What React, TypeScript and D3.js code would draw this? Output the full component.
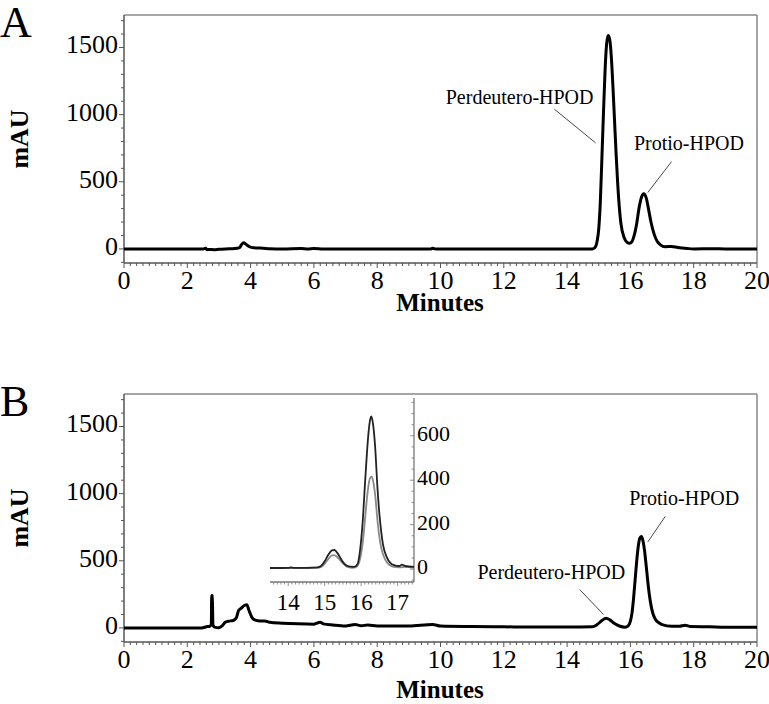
import React from "react";
import * as d3 from "d3";

// ---------- data ----------
const xTicks = [0, 2, 4, 6, 8, 10, 12, 14, 16, 18, 20];
const yTicks = [0, 500, 1000, 1500];
const insetXTicks = [14, 15, 16, 17];
const insetYTicks = [0, 200, 400, 600];

// Panel A chromatogram [minutes, mAU]
const traceA: [number, number][] = [
  [0, 0], [2.5, 0], [2.58, 4], [2.62, -6], [2.7, -4], [2.85, -6], [3.0, -3], [3.2, 0],
  [3.5, 3], [3.65, 10], [3.72, 35], [3.78, 45], [3.85, 35], [3.95, 18], [4.1, 8], [4.4, 5],
  [4.6, 2], [5.0, 0], [5.6, 3], [5.8, 0], [6.0, 3], [6.3, 0], [8, 0], [9.7, 0], [9.75, 5],
  [9.85, 0], [14.8, 0], [14.88, 10], [14.95, 60], [15.0, 150], [15.05, 350], [15.1, 680],
  [15.15, 1020], [15.2, 1330], [15.25, 1530], [15.3, 1590], [15.35, 1555], [15.4, 1420],
  [15.45, 1200], [15.5, 950], [15.55, 700], [15.6, 480], [15.65, 310], [15.7, 190],
  [15.8, 85], [15.9, 48], [15.97, 42], [16.05, 55], [16.12, 100], [16.2, 190], [16.27, 300],
  [16.35, 385], [16.42, 411], [16.5, 380], [16.57, 300], [16.65, 200], [16.75, 110],
  [16.85, 55], [16.95, 30], [17.1, 16], [17.3, 18], [17.5, 10], [17.8, 3], [18, 0],
  [18.6, 2], [19, 0], [20, 0],
];

// Panel B chromatogram [minutes, mAU]
const traceB: [number, number][] = [
  [0, 0], [2.45, 0], [2.6, 8], [2.72, 14], [2.76, 30], [2.77, 242], [2.79, 240], [2.81, 20],
  [2.88, 4], [3.0, 2], [3.1, 15], [3.2, 42], [3.3, 50], [3.45, 55], [3.55, 75], [3.62, 130],
  [3.72, 150], [3.82, 170], [3.88, 172], [3.95, 130], [4.05, 75], [4.15, 58], [4.3, 52],
  [4.45, 52], [4.6, 42], [5.0, 35], [5.5, 30], [6.0, 28], [6.2, 42], [6.3, 30], [6.6, 22],
  [7.0, 15], [7.3, 25], [7.5, 16], [7.7, 22], [8.0, 15], [9.0, 14], [9.75, 26], [10.0, 14],
  [11, 10], [12, 8], [13, 6], [14, 6], [14.8, 8], [14.95, 25], [15.1, 55], [15.23, 72],
  [15.35, 60], [15.5, 32], [15.65, 14], [15.83, 5], [15.93, 15], [16.0, 50], [16.05, 110],
  [16.1, 220], [16.15, 360], [16.2, 500], [16.25, 610], [16.3, 670], [16.35, 680],
  [16.4, 645], [16.45, 570], [16.5, 460], [16.55, 345], [16.6, 245], [16.7, 115],
  [16.8, 60], [16.9, 38], [17.0, 24], [17.3, 12], [17.55, 12], [17.73, 20], [17.9, 10],
  [18.5, 8], [19, 5], [20, 5],
];

// Inset (panel B), two overlaid runs [minutes, mAU]
const insetDark: [number, number][] = [
  [13.5, 5], [14.0, 6], [14.08, 8], [14.15, 6], [14.5, 6], [14.8, 8], [14.9, 14], [15.0, 35],
  [15.1, 65], [15.2, 84], [15.27, 86], [15.35, 72], [15.45, 45], [15.55, 22], [15.65, 12],
  [15.8, 10], [15.9, 22], [15.95, 60], [16.0, 130], [16.05, 230], [16.1, 370], [16.15, 500],
  [16.2, 610], [16.25, 675], [16.28, 687], [16.32, 660], [16.38, 560], [16.45, 360],
  [16.5, 250], [16.55, 170], [16.6, 110], [16.7, 55], [16.8, 28], [16.9, 18], [17.05, 14],
  [17.12, 20], [17.2, 14], [17.45, 10],
];
const insetLight: [number, number][] = [
  [13.5, 4], [14.5, 5], [14.8, 6], [14.9, 10], [15.0, 24], [15.1, 45], [15.2, 62], [15.28, 62],
  [15.38, 48], [15.5, 26], [15.6, 12], [15.75, 6], [15.85, 8], [15.92, 20], [15.97, 45],
  [16.02, 90], [16.07, 160], [16.12, 250], [16.17, 335], [16.22, 395], [16.26, 414],
  [16.29, 416], [16.33, 395], [16.39, 325], [16.45, 215], [16.5, 145], [16.56, 90],
  [16.62, 58], [16.7, 32], [16.8, 16], [16.9, 10], [17.05, 8], [17.2, 10], [17.45, 6],
];

const FONT = "'Liberation Serif', 'Times New Roman', serif";

type Ann = { text: string; tx: number; ty: number; x1: number; y1: number; x2: number; y2: number };

// annotations expressed in data coordinates
const annA: Ann[] = [
  { text: "Perdeutero-HPOD", tx: 12.5, ty: 1110, x1: 13.6, y1: 1040, x2: 14.9, y2: 790 },
  { text: "Protio-HPOD", tx: 17.85, ty: 770, x1: 17.3, y1: 650, x2: 16.55, y2: 420 },
];
const annB: Ann[] = [
  { text: "Perdeutero-HPOD", tx: 13.5, ty: 400, x1: 14.4, y1: 285, x2: 15.15, y2: 100 },
  { text: "Protio-HPOD", tx: 17.7, ty: 950, x1: 17.1, y1: 830, x2: 16.55, y2: 640 },
];

// ---------- layout ----------
const W = 769;
const H = 704;
const left = 124;
const right = 757;
const plotH = 248;

function Panel({ top, data, anns, letter, titleOffset, children }: any) {
  const x = d3.scaleLinear().domain([0, 20]).range([left, right]);
  const y = d3.scaleLinear().domain([-105, 1742]).range([top + plotH, top]);
  const bottom = top + plotH;
  const line = d3
    .line<[number, number]>()
    .x((d) => x(d[0]))
    .y((d) => y(d[1]))
    .curve(d3.curveMonotoneX);
  const minorX = d3.range(0, 20.001, 0.2);
  const minorY = d3.range(-100, 1701, 100);
  return (
    <g>
      <text x={0} y={top + 22} fontFamily={FONT} fontSize={44}>
        {letter}
      </text>
      {/* frame */}
      <line x1={left} x2={right} y1={top} y2={top} stroke="#888" strokeWidth={1.5} />
      <line x1={right} x2={right} y1={top} y2={bottom} stroke="#888" strokeWidth={1.5} />
      <line x1={left} x2={left} y1={top} y2={bottom} stroke="#555" strokeWidth={1.5} />
      <line x1={left} x2={right} y1={bottom} y2={bottom} stroke="#555" strokeWidth={1.5} />
      {minorX.map((v, i) => {
        const major = Math.abs(v / 2 - Math.round(v / 2)) < 1e-6;
        return (
          <line key={"mx" + i} x1={x(v)} x2={x(v)} y1={bottom} y2={bottom + (major ? 5 : 3)} stroke="#555" strokeWidth={1} />
        );
      })}
      {minorY.map((v, i) => {
        const major = v % 500 === 0;
        return (
          <line key={"my" + i} x1={left} x2={left - (major ? 5 : 3)} y1={y(v)} y2={y(v)} stroke="#555" strokeWidth={1} />
        );
      })}
      {xTicks.map((v) => (
        <text key={"xt" + v} x={x(v)} y={bottom + 20} fontFamily={FONT} fontSize={26} textAnchor="middle" dominantBaseline="middle">
          {v}
        </text>
      ))}
      {yTicks.map((v) => (
        <text key={"yt" + v} x={left - 6} y={y(v)} fontFamily={FONT} fontSize={26} textAnchor="end" dominantBaseline="middle">
          {v}
        </text>
      ))}
      <text x={440} y={bottom + titleOffset} fontFamily={FONT} fontSize={25} fontWeight="bold" textAnchor="middle" dominantBaseline="middle">
        Minutes
      </text>
      <text
        transform={`translate(${22},${top + 124}) rotate(-90)`}
        fontFamily={FONT}
        fontSize={26}
        fontWeight="bold"
        textAnchor="middle"
        dominantBaseline="middle"
      >
        mAU
      </text>
      {children}
      <path d={line(data) || ""} fill="none" stroke="#000" strokeWidth={3} strokeLinejoin="round" />
      {anns.map((a: Ann, i: number) => (
        <g key={"a" + i}>
          <line x1={x(a.x1)} y1={y(a.y1)} x2={x(a.x2)} y2={y(a.y2)} stroke="#333" strokeWidth={0.9} />
          <text x={x(a.tx)} y={y(a.ty)} fontFamily={FONT} fontSize={20} textAnchor="middle" dominantBaseline="middle">
            {a.text}
          </text>
        </g>
      ))}
    </g>
  );
}

function Inset() {
  const x0 = 270;
  const x1 = 414;
  const yTop = 398;
  const yBot = 582;
  const x = d3.scaleLinear().domain([13.5, 17.45]).range([x0, x1]);
  const y = d3.scaleLinear().domain([-58, 770]).range([yBot, yTop]);
  const line = d3
    .line<[number, number]>()
    .x((d) => x(d[0]))
    .y((d) => y(d[1]))
    .curve(d3.curveMonotoneX);
  const minorX = d3.range(13.6, 17.41, 0.1);
  const minorY = d3.range(-50, 751, 50);
  return (
    <g>
      <line x1={x0} x2={x1} y1={yBot} y2={yBot} stroke="#777" strokeWidth={1.3} />
      <line x1={x1} x2={x1} y1={yTop} y2={yBot} stroke="#777" strokeWidth={1.3} />
      {minorX.map((v, i) => {
        const major = Math.abs(v - Math.round(v)) < 1e-6;
        return <line key={"ix" + i} x1={x(v)} x2={x(v)} y1={yBot} y2={yBot + (major ? 4 : 2.5)} stroke="#777" strokeWidth={0.8} />;
      })}
      {minorY.map((v, i) => {
        const major = v % 200 === 0;
        return <line key={"iy" + i} x1={x1} x2={x1 - (major ? 4 : 2.5)} y1={y(v)} y2={y(v)} stroke="#777" strokeWidth={0.8} />;
      })}
      {insetXTicks.map((v) => (
        <text key={"ixt" + v} x={x(v)} y={yBot + 23} fontFamily={FONT} fontSize={23} textAnchor="middle" dominantBaseline="middle">
          {v}
        </text>
      ))}
      {insetYTicks.map((v) => (
        <text key={"iyt" + v} x={x1 + 3} y={y(v)} fontFamily={FONT} fontSize={22} textAnchor="start" dominantBaseline="middle">
          {v}
        </text>
      ))}
      <path d={line(insetLight) || ""} fill="none" stroke="#888" strokeWidth={1.8} />
      <path d={line(insetDark) || ""} fill="none" stroke="#222" strokeWidth={1.8} />
    </g>
  );
}

export default function App() {
  return (
    <svg width={W} height={H} style={{ position: "absolute", left: 0, top: 0, background: "#fff" }}>
      <rect width={W} height={H} fill="#fff" />
      <Panel top={15} data={traceA} anns={annA} letter="A" titleOffset={42} />
      <Panel top={394} data={traceB} anns={annB} letter="B" titleOffset={50}>
        <Inset />
      </Panel>
    </svg>
  );
}
